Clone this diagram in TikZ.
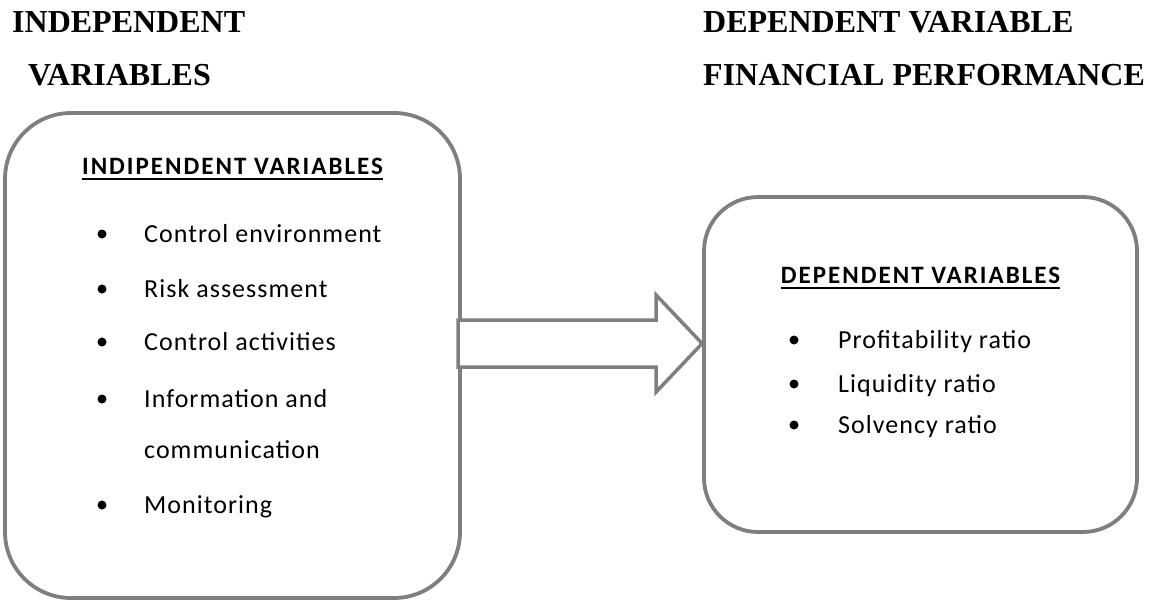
\documentclass[tikz,border=0pt]{standalone}
\usepackage{fontspec}
\setmainfont{Liberation Serif}
\newfontfamily\bodyfont[LetterSpace=4]{Carlito}
\newfontfamily\headfont[LetterSpace=8]{Carlito}
\usepackage{tikz}
\usetikzlibrary{positioning}
\definecolor{edgegray}{HTML}{7F7F7F}

\begin{document}
\begin{tikzpicture}[x=1pt, y=-1pt,
  title/.style={anchor=base west, inner sep=0pt, font=\bfseries\fontsize{32}{38}\selectfont},
  panel/.style={draw=edgegray, line width=3.8pt, fill=white, inner sep=0pt},
  head/.style={anchor=base, inner sep=0pt, font=\headfont\bfseries\fontsize{25}{30}\selectfont},
  item/.style={anchor=base west, inner sep=0pt, font=\bodyfont\fontsize{26}{31}\selectfont},
  blk/.style={draw=edgegray, line width=3.5pt, fill=white, line join=miter}]
\useasboundingbox (0,0) rectangle (1153,603);
% titles
\node[title] (tind) at (12,32) {INDEPENDENT};
\node[title] (tvar) at (28,85) {VARIABLES};
\node[title] (tdep) at (703,32) {DEPENDENT VARIABLE};
\node[title] (tfin) at (703,85) {FINANCIAL PERFORMANCE};
% boxes
\node[panel, rounded corners=66pt, minimum width=455pt, minimum height=485pt] (indep) at (232.5,355.5) {};
\node[panel, rounded corners=54pt, minimum width=433pt, minimum height=335pt] (dep) at (920.5,364.5) {};
% block arrow
\coordinate (tip) at ([yshift=21pt]dep.west);
\draw[blk] (tip) -- ++(-46,-48.5) -- ++(0,25) -- ++(-198,0) -- ++(0,47) -- ++(198,0) -- ++(0,25) -- cycle;
% left box
\node[head] (ihead) at (indep.center |- 0,174) {INDIPENDENT VARIABLES};
\draw[line width=2pt] ([yshift=-5pt]ihead.base west) -- ([yshift=-5pt]ihead.base east);
\node[item] (ce) at (144,242) {Control environment};
\node[item] (ra) at (144,297) {Risk assessment};
\node[item] (ca) at (144,350) {Control activities};
\node[item] (ic) at (144,407) {Information and};
\node[item] (cm) at (144,458) {communication};
\node[item] (mo) at (144,513) {Monitoring};
\foreach \i in {ce,ra,ca,ic,mo}{\fill ([xshift=-42pt, yshift=8pt]\i.base west) circle (4.5pt);}
% right box
\node[head] (dhead) at (dep.center |- 0,283) {DEPENDENT VARIABLES};
\draw[line width=2pt] ([yshift=-5pt]dhead.base west) -- ([yshift=-5pt]dhead.base east);
\node[item] (pr) at (838,348) {Profitability ratio};
\node[item] (lr) at (838,392) {Liquidity ratio};
\node[item] (sr) at (838,433) {Solvency ratio};
\foreach \i in {pr,lr,sr}{\fill ([xshift=-44pt, yshift=8pt]\i.base west) circle (4.5pt);}
\end{tikzpicture}
\end{document}
